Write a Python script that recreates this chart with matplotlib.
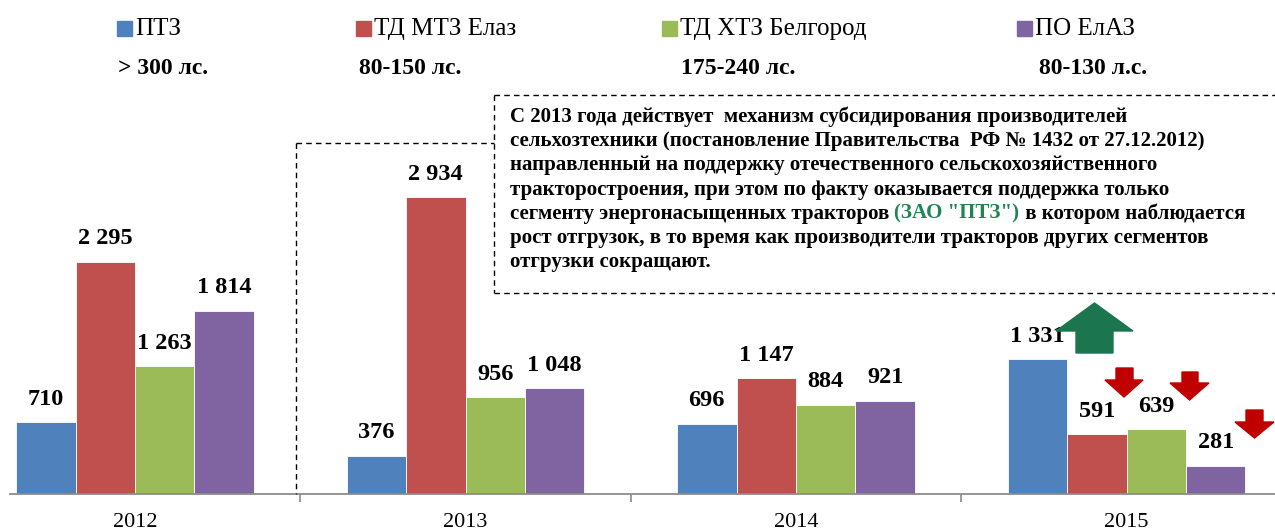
import matplotlib
matplotlib.use('Agg')
import matplotlib.pyplot as plt
from matplotlib.patches import Rectangle, Polygon
from matplotlib.lines import Line2D
import numpy as np

plt.rcParams['font.family'] = ['Liberation Serif', 'DejaVu Serif']

# data
years = ['2012', '2013', '2014', '2015']
series = ['ПТЗ', 'ТД МТЗ Елаз', 'ТД ХТЗ Белгород', 'ПО ЕлАЗ']
power = ['> 300 лс.', '80-150 лс.', '175-240 лс.', '80-130 л.с.']
ptz = [710, 376, 696, 1331]
mtz = [2295, 2934, 1147, 591]
htz = [1263, 956, 884, 639]
elaz = [1814, 1048, 921, 281]

note_lines = [
    'С 2013 года действует  механизм субсидирования производителей',
    'сельхозтехники (постановление Правительства  РФ № 1432 от 27.12.2012)',
    'направленный на поддержку отечественного сельскохозяйственного',
    'тракторостроения, при этом по факту оказывается поддержка только',
    ['сегменту энергонасыщенных тракторов ', '(ЗАО "ПТЗ")', ' в котором наблюдается'],
    'рост отгрузок, в то время как производители тракторов других сегментов',
    'отгрузки сокращают.',
]

colors = ['#4F81BD', '#C0504D', '#9BBB59', '#8064A2']
W, H = 1275, 531


def fx(px):
    return px / W


def fy(py):
    return 1 - py / H


def fmt(v):
    return f'{v:,}'.replace(',', ' ')


fig = plt.figure(figsize=(W / 100, H / 100), dpi=100)

# axes: baseline at y=494 px, 0.1011 px per unit
ymax = 4000
ax_h = ymax * 0.1011
ax = fig.add_axes([fx(10), fy(494), fx(1265), ax_h / H])

x = np.arange(len(years))
bw = 0.18
for i, (vals, c) in enumerate(zip([ptz, mtz, htz, elaz], colors)):
    bars = ax.bar(x + (i - 1.5) * bw, vals, bw, color=c, edgecolor='white', linewidth=0.6)
    ax.bar_label(bars, labels=[fmt(v) for v in vals], padding=9,
                 fontsize=17.5, fontweight='bold')

ax.set_xlim((10 - 135) / 330.5, (1275 - 135) / 330.5)
ax.set_ylim(0, ymax)
for s in ['top', 'right', 'left']:
    ax.spines[s].set_visible(False)
ax.spines['bottom'].set_color('#8C8C8C')
ax.spines['bottom'].set_linewidth(1.3)
ax.set_yticks([])
ax.set_xticks(x)
ax.set_xticklabels(years, fontsize=16)
ax.tick_params(axis='x', which='major', length=0, pad=14)
ax.set_xticks(x[:-1] + 0.5, minor=True)
ax.tick_params(axis='x', which='minor', length=6, color='#8C8C8C', width=1.2)

# legend + power ranges
leg_x = [117, 356, 662, 1017]
sub_x = [163, 410, 738, 1093]
for lx, sx, name, pw, c in zip(leg_x, sub_x, series, power, colors):
    fig.patches.append(Rectangle((fx(lx), fy(36)), fx(15), 15 / H, color=c,
                                 transform=fig.transFigure, figure=fig))
    fig.text(fx(lx + 18), fy(29), name, fontsize=18, va='center', ha='left')
    fig.text(fx(sx), fy(69), pw, fontsize=17, fontweight='bold', va='center', ha='center')

# dashed frames
dash = dict(color='black', linewidth=1.0, linestyle=(0, (4, 3)), transform=fig.transFigure)
fig.add_artist(Line2D([fx(296), fx(296)], [fy(143), fy(494)], **dash))
fig.add_artist(Line2D([fx(296), fx(494)], [fy(143), fy(143)], **dash))
fig.add_artist(Line2D([fx(494), fx(494)], [fy(95), fy(293)], **dash))
fig.add_artist(Line2D([fx(494), fx(1280)], [fy(95), fy(95)], **dash))
fig.add_artist(Line2D([fx(494), fx(1280)], [fy(293), fy(293)], **dash))

# note text
tkw = dict(fontsize=15, fontweight='bold')
for k, line in enumerate(note_lines):
    yy = fy(117 + k * 24.2)
    if isinstance(line, list):
        t = fig.text(fx(510), yy, line[0], va='center', ha='left', **tkw)
        t2 = fig.text(0, 0, line[1], color='#1F8552', va='center', ha='left', **tkw)
        fig.canvas.draw()
        bb = t.get_window_extent()
        t2.set_position((bb.x1 / W, yy))
        fig.canvas.draw()
        bb2 = t2.get_window_extent()
        fig.text(bb2.x1 / W, yy, line[2], va='center', ha='left', **tkw)
    else:
        fig.text(fx(510), yy, line, va='center', ha='left', **tkw)


# arrows (pixel coords)
def arrow(body, head, y_tail, y_base, y_tip, color):
    pts = [(body[0], y_tail), (body[1], y_tail), (body[1], y_base), (head[1], y_base),
           ((head[0] + head[1]) / 2, y_tip), (head[0], y_base), (body[0], y_base)]
    fig.patches.append(Polygon([(fx(a), fy(b)) for a, b in pts], closed=True, color=color,
                               transform=fig.transFigure, figure=fig))


arrow((1076, 1113), (1056, 1133), 353, 331, 303, '#1B7650')
arrow((1116, 1133), (1105, 1143), 368, 380, 397, '#C00000')
arrow((1182, 1198), (1170, 1209), 372, 383, 400, '#C00000')
arrow((1246, 1263), (1235, 1274), 410, 422, 438, '#C00000')

fig.savefig('out.png', dpi=100)
